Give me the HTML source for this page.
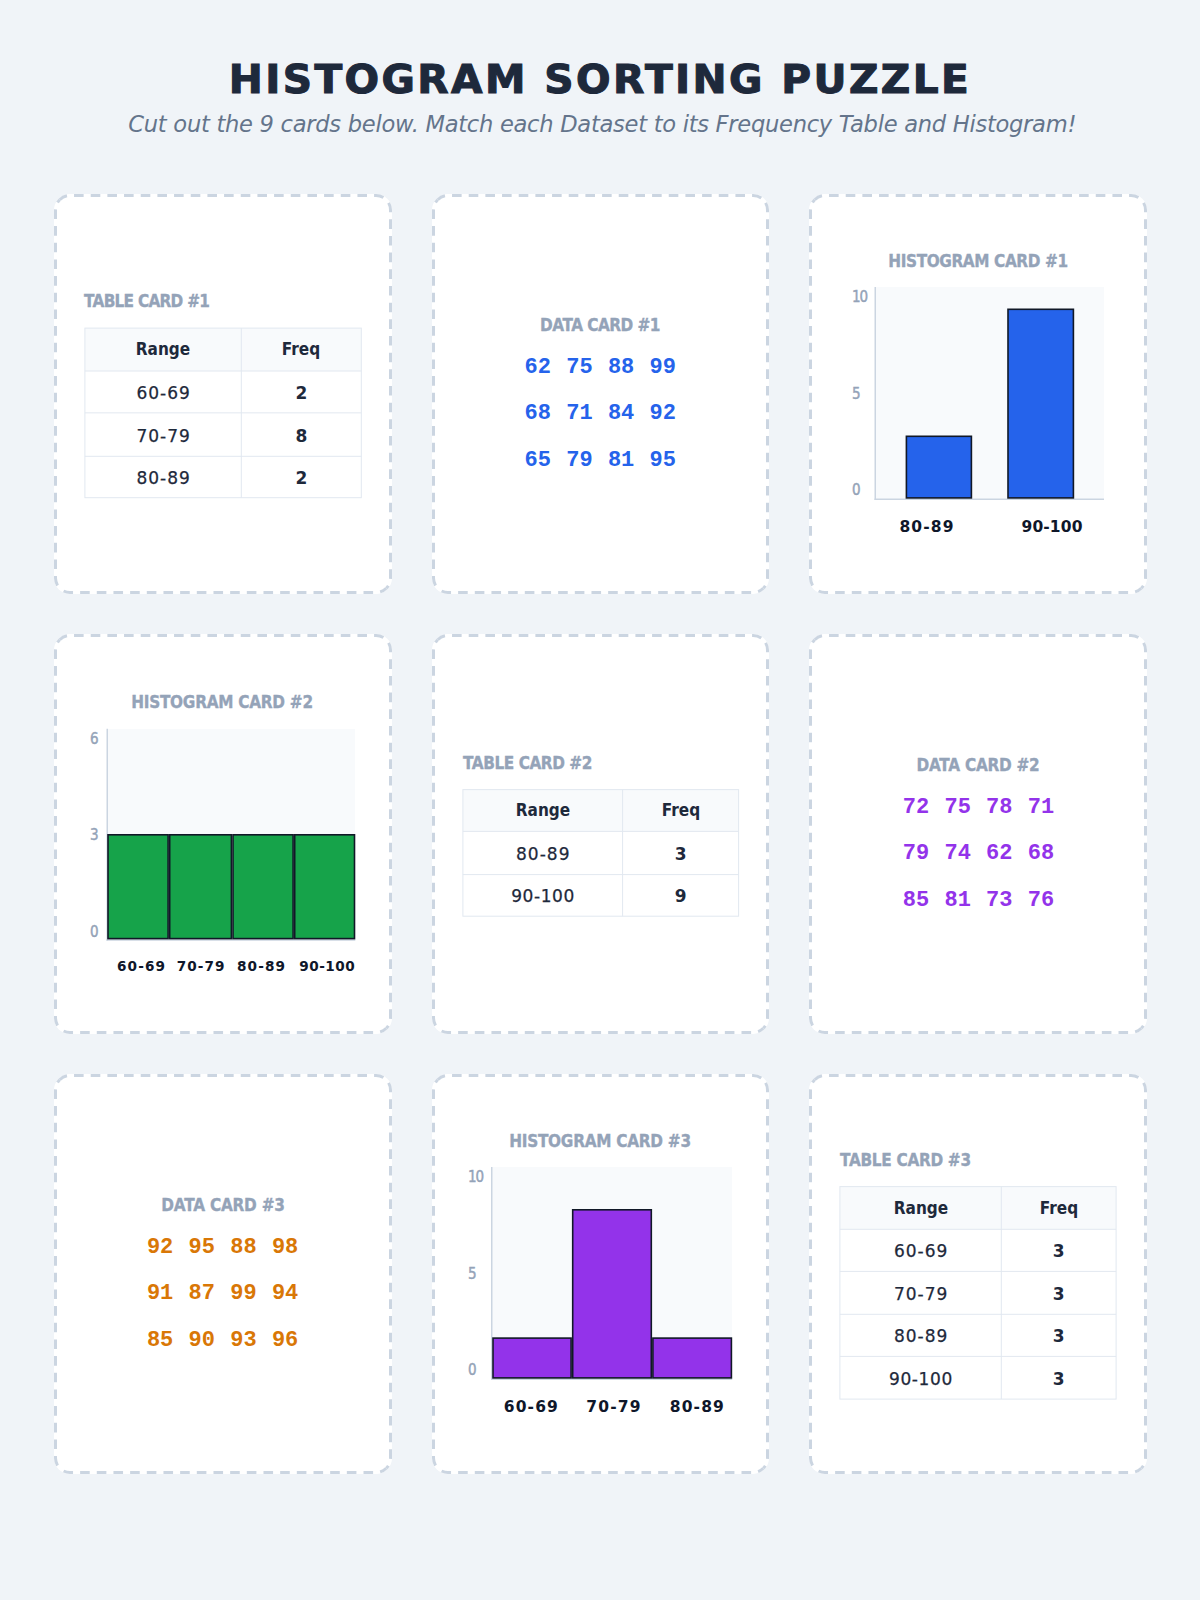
<!DOCTYPE html>
<html><head><meta charset="utf-8"><title>Histogram Sorting Puzzle</title>
<style>
html,body{margin:0;padding:0;}
body{width:1200px;height:1600px;background:#f0f4f8;position:relative;overflow:hidden;font-family:'DejaVu Sans', 'Liberation Sans', sans-serif;}
.t{position:absolute;white-space:nowrap;}
.card{position:absolute;box-sizing:border-box;border-radius:16px;background:#fff;}
.cb{position:absolute;overflow:visible;}
.tb{position:absolute;box-sizing:border-box;border:1px solid #e2e8f0;}
</style></head><body>
<div class="t" style="left:-400.08px;top:60.88px;width:2000px;text-align:center;font:normal 700 38.4px/1 'DejaVu Sans', 'Liberation Sans', sans-serif;color:#1e293b;letter-spacing:2.24px;-webkit-text-stroke:1.05px #1e293b;transform:scaleX(1.06);transform-origin:50% 0;">HISTOGRAM SORTING PUZZLE</div>
<div class="t" style="left:-397.74px;top:112.71px;width:2000px;text-align:center;font:italic 400 22.6px/1 'DejaVu Sans', 'Liberation Sans', sans-serif;color:#64748b;letter-spacing:-0.28px;">Cut out the 9 cards below. Match each Dataset to its Frequency Table and Histogram!</div>
<div class="card" style="left:54px;top:194px;width:338px;height:400px"></div>
<svg class="cb" style="left:54px;top:194px" width="338" height="400"><g fill="none" stroke="#cbd5e1" stroke-width="3.0"><path d="M5.75,5.75 A14.5,14.5 0 0 1 16.0,1.5 L322.0,1.5 A14.5,14.5 0 0 1 332.25,5.75" stroke-dasharray="9.6 7.07" stroke-dashoffset="1.32"/><path d="M332.25,5.75 A14.5,14.5 0 0 1 336.5,16.0 L336.5,384.0 A14.5,14.5 0 0 1 332.25,394.25" stroke-dasharray="9.6 7.07" stroke-dashoffset="12.75"/><path d="M5.75,5.75 A14.5,14.5 0 0 0 1.5,16.0 L1.5,384.0 A14.5,14.5 0 0 0 5.75,394.25" stroke-dasharray="9.6 7.07" stroke-dashoffset="5.98"/><path d="M5.75,394.25 A14.5,14.5 0 0 0 16.0,398.5 L322.0,398.5 A14.5,14.5 0 0 0 332.25,394.25" stroke-dasharray="9.6 7.07" stroke-dashoffset="11.91"/></g></svg>
<div class="card" style="left:432px;top:194px;width:337px;height:400px"></div>
<svg class="cb" style="left:432px;top:194px" width="337" height="400"><g fill="none" stroke="#cbd5e1" stroke-width="3.0"><path d="M5.75,5.75 A14.5,14.5 0 0 1 16.0,1.5 L321.0,1.5 A14.5,14.5 0 0 1 331.25,5.75" stroke-dasharray="9.6 7.07" stroke-dashoffset="1.32"/><path d="M331.25,5.75 A14.5,14.5 0 0 1 335.5,16.0 L335.5,384.0 A14.5,14.5 0 0 1 331.25,394.25" stroke-dasharray="9.6 7.07" stroke-dashoffset="12.75"/><path d="M5.75,5.75 A14.5,14.5 0 0 0 1.5,16.0 L1.5,384.0 A14.5,14.5 0 0 0 5.75,394.25" stroke-dasharray="9.6 7.07" stroke-dashoffset="5.98"/><path d="M5.75,394.25 A14.5,14.5 0 0 0 16.0,398.5 L321.0,398.5 A14.5,14.5 0 0 0 331.25,394.25" stroke-dasharray="9.6 7.07" stroke-dashoffset="11.91"/></g></svg>
<div class="card" style="left:809px;top:194px;width:338px;height:400px"></div>
<svg class="cb" style="left:809px;top:194px" width="338" height="400"><g fill="none" stroke="#cbd5e1" stroke-width="3.0"><path d="M5.75,5.75 A14.5,14.5 0 0 1 16.0,1.5 L322.0,1.5 A14.5,14.5 0 0 1 332.25,5.75" stroke-dasharray="9.6 7.07" stroke-dashoffset="1.32"/><path d="M332.25,5.75 A14.5,14.5 0 0 1 336.5,16.0 L336.5,384.0 A14.5,14.5 0 0 1 332.25,394.25" stroke-dasharray="9.6 7.07" stroke-dashoffset="12.75"/><path d="M5.75,5.75 A14.5,14.5 0 0 0 1.5,16.0 L1.5,384.0 A14.5,14.5 0 0 0 5.75,394.25" stroke-dasharray="9.6 7.07" stroke-dashoffset="5.98"/><path d="M5.75,394.25 A14.5,14.5 0 0 0 16.0,398.5 L322.0,398.5 A14.5,14.5 0 0 0 332.25,394.25" stroke-dasharray="9.6 7.07" stroke-dashoffset="11.91"/></g></svg>
<div class="card" style="left:54px;top:634px;width:338px;height:400px"></div>
<svg class="cb" style="left:54px;top:634px" width="338" height="400"><g fill="none" stroke="#cbd5e1" stroke-width="3.0"><path d="M5.75,5.75 A14.5,14.5 0 0 1 16.0,1.5 L322.0,1.5 A14.5,14.5 0 0 1 332.25,5.75" stroke-dasharray="9.6 7.07" stroke-dashoffset="1.32"/><path d="M332.25,5.75 A14.5,14.5 0 0 1 336.5,16.0 L336.5,384.0 A14.5,14.5 0 0 1 332.25,394.25" stroke-dasharray="9.6 7.07" stroke-dashoffset="12.75"/><path d="M5.75,5.75 A14.5,14.5 0 0 0 1.5,16.0 L1.5,384.0 A14.5,14.5 0 0 0 5.75,394.25" stroke-dasharray="9.6 7.07" stroke-dashoffset="5.98"/><path d="M5.75,394.25 A14.5,14.5 0 0 0 16.0,398.5 L322.0,398.5 A14.5,14.5 0 0 0 332.25,394.25" stroke-dasharray="9.6 7.07" stroke-dashoffset="11.91"/></g></svg>
<div class="card" style="left:432px;top:634px;width:337px;height:400px"></div>
<svg class="cb" style="left:432px;top:634px" width="337" height="400"><g fill="none" stroke="#cbd5e1" stroke-width="3.0"><path d="M5.75,5.75 A14.5,14.5 0 0 1 16.0,1.5 L321.0,1.5 A14.5,14.5 0 0 1 331.25,5.75" stroke-dasharray="9.6 7.07" stroke-dashoffset="1.32"/><path d="M331.25,5.75 A14.5,14.5 0 0 1 335.5,16.0 L335.5,384.0 A14.5,14.5 0 0 1 331.25,394.25" stroke-dasharray="9.6 7.07" stroke-dashoffset="12.75"/><path d="M5.75,5.75 A14.5,14.5 0 0 0 1.5,16.0 L1.5,384.0 A14.5,14.5 0 0 0 5.75,394.25" stroke-dasharray="9.6 7.07" stroke-dashoffset="5.98"/><path d="M5.75,394.25 A14.5,14.5 0 0 0 16.0,398.5 L321.0,398.5 A14.5,14.5 0 0 0 331.25,394.25" stroke-dasharray="9.6 7.07" stroke-dashoffset="11.91"/></g></svg>
<div class="card" style="left:809px;top:634px;width:338px;height:400px"></div>
<svg class="cb" style="left:809px;top:634px" width="338" height="400"><g fill="none" stroke="#cbd5e1" stroke-width="3.0"><path d="M5.75,5.75 A14.5,14.5 0 0 1 16.0,1.5 L322.0,1.5 A14.5,14.5 0 0 1 332.25,5.75" stroke-dasharray="9.6 7.07" stroke-dashoffset="1.32"/><path d="M332.25,5.75 A14.5,14.5 0 0 1 336.5,16.0 L336.5,384.0 A14.5,14.5 0 0 1 332.25,394.25" stroke-dasharray="9.6 7.07" stroke-dashoffset="12.75"/><path d="M5.75,5.75 A14.5,14.5 0 0 0 1.5,16.0 L1.5,384.0 A14.5,14.5 0 0 0 5.75,394.25" stroke-dasharray="9.6 7.07" stroke-dashoffset="5.98"/><path d="M5.75,394.25 A14.5,14.5 0 0 0 16.0,398.5 L322.0,398.5 A14.5,14.5 0 0 0 332.25,394.25" stroke-dasharray="9.6 7.07" stroke-dashoffset="11.91"/></g></svg>
<div class="card" style="left:54px;top:1074px;width:338px;height:400px"></div>
<svg class="cb" style="left:54px;top:1074px" width="338" height="400"><g fill="none" stroke="#cbd5e1" stroke-width="3.0"><path d="M5.75,5.75 A14.5,14.5 0 0 1 16.0,1.5 L322.0,1.5 A14.5,14.5 0 0 1 332.25,5.75" stroke-dasharray="9.6 7.07" stroke-dashoffset="1.32"/><path d="M332.25,5.75 A14.5,14.5 0 0 1 336.5,16.0 L336.5,384.0 A14.5,14.5 0 0 1 332.25,394.25" stroke-dasharray="9.6 7.07" stroke-dashoffset="12.75"/><path d="M5.75,5.75 A14.5,14.5 0 0 0 1.5,16.0 L1.5,384.0 A14.5,14.5 0 0 0 5.75,394.25" stroke-dasharray="9.6 7.07" stroke-dashoffset="5.98"/><path d="M5.75,394.25 A14.5,14.5 0 0 0 16.0,398.5 L322.0,398.5 A14.5,14.5 0 0 0 332.25,394.25" stroke-dasharray="9.6 7.07" stroke-dashoffset="11.91"/></g></svg>
<div class="card" style="left:432px;top:1074px;width:337px;height:400px"></div>
<svg class="cb" style="left:432px;top:1074px" width="337" height="400"><g fill="none" stroke="#cbd5e1" stroke-width="3.0"><path d="M5.75,5.75 A14.5,14.5 0 0 1 16.0,1.5 L321.0,1.5 A14.5,14.5 0 0 1 331.25,5.75" stroke-dasharray="9.6 7.07" stroke-dashoffset="1.32"/><path d="M331.25,5.75 A14.5,14.5 0 0 1 335.5,16.0 L335.5,384.0 A14.5,14.5 0 0 1 331.25,394.25" stroke-dasharray="9.6 7.07" stroke-dashoffset="12.75"/><path d="M5.75,5.75 A14.5,14.5 0 0 0 1.5,16.0 L1.5,384.0 A14.5,14.5 0 0 0 5.75,394.25" stroke-dasharray="9.6 7.07" stroke-dashoffset="5.98"/><path d="M5.75,394.25 A14.5,14.5 0 0 0 16.0,398.5 L321.0,398.5 A14.5,14.5 0 0 0 331.25,394.25" stroke-dasharray="9.6 7.07" stroke-dashoffset="11.91"/></g></svg>
<div class="card" style="left:809px;top:1074px;width:338px;height:400px"></div>
<svg class="cb" style="left:809px;top:1074px" width="338" height="400"><g fill="none" stroke="#cbd5e1" stroke-width="3.0"><path d="M5.75,5.75 A14.5,14.5 0 0 1 16.0,1.5 L322.0,1.5 A14.5,14.5 0 0 1 332.25,5.75" stroke-dasharray="9.6 7.07" stroke-dashoffset="1.32"/><path d="M332.25,5.75 A14.5,14.5 0 0 1 336.5,16.0 L336.5,384.0 A14.5,14.5 0 0 1 332.25,394.25" stroke-dasharray="9.6 7.07" stroke-dashoffset="12.75"/><path d="M5.75,5.75 A14.5,14.5 0 0 0 1.5,16.0 L1.5,384.0 A14.5,14.5 0 0 0 5.75,394.25" stroke-dasharray="9.6 7.07" stroke-dashoffset="5.98"/><path d="M5.75,394.25 A14.5,14.5 0 0 0 16.0,398.5 L322.0,398.5 A14.5,14.5 0 0 0 332.25,394.25" stroke-dasharray="9.6 7.07" stroke-dashoffset="11.91"/></g></svg>
<div class="t" style="left:84.10px;top:293.03px;font:normal 700 17px/1 'DejaVu Sans', 'Liberation Sans', sans-serif;color:#94a3b8;letter-spacing:-0.811px;transform:scaleX(0.9);transform-origin:0 0;-webkit-text-stroke:0.35px #94a3b8;">TABLE CARD #1</div>
<svg class="cb" style="left:0;top:0" width="1200" height="1600"><rect x="84.9" y="328.1" width="276.4" height="42.89999999999998" fill="#f8fafc"/><g stroke="#e2e8f0" stroke-width="1" fill="none"><rect x="84.9" y="328.1" width="276.4" height="169.59999999999997"/><line x1="84.9" y1="371.0" x2="361.3" y2="371.0"/><line x1="84.9" y1="412.85" x2="361.3" y2="412.85"/><line x1="84.9" y1="456.3" x2="361.3" y2="456.3"/><line x1="241.3" y1="328.1" x2="241.3" y2="497.7"/></g></svg>
<div class="t" style="left:-836.90px;top:341.48px;width:2000px;text-align:center;font:normal 700 17px/1 'DejaVu Sans', 'Liberation Sans', sans-serif;color:#1e293b;letter-spacing:0.0px;transform:scaleX(0.9);transform-origin:50% 0;">Range</div>
<div class="t" style="left:-698.70px;top:341.48px;width:2000px;text-align:center;font:normal 700 17px/1 'DejaVu Sans', 'Liberation Sans', sans-serif;color:#1e293b;letter-spacing:0.0px;transform:scaleX(0.9);transform-origin:50% 0;">Freq</div>
<div class="t" style="left:-836.40px;top:384.94px;width:2000px;text-align:center;font:normal 400 17px/1 'DejaVu Sans', 'Liberation Sans', sans-serif;color:#1e293b;letter-spacing:1.0px;-webkit-text-stroke:0.25px #1e293b;">60-69</div>
<div class="t" style="left:-698.70px;top:384.94px;width:2000px;text-align:center;font:normal 700 17px/1 'DejaVu Sans', 'Liberation Sans', sans-serif;color:#1e293b;letter-spacing:0px;">2</div>
<div class="t" style="left:-836.40px;top:427.59px;width:2000px;text-align:center;font:normal 400 17px/1 'DejaVu Sans', 'Liberation Sans', sans-serif;color:#1e293b;letter-spacing:1.0px;-webkit-text-stroke:0.25px #1e293b;">70-79</div>
<div class="t" style="left:-698.70px;top:427.59px;width:2000px;text-align:center;font:normal 700 17px/1 'DejaVu Sans', 'Liberation Sans', sans-serif;color:#1e293b;letter-spacing:0px;">8</div>
<div class="t" style="left:-836.40px;top:470.01px;width:2000px;text-align:center;font:normal 400 17px/1 'DejaVu Sans', 'Liberation Sans', sans-serif;color:#1e293b;letter-spacing:1.0px;-webkit-text-stroke:0.25px #1e293b;">80-89</div>
<div class="t" style="left:-698.70px;top:470.01px;width:2000px;text-align:center;font:normal 700 17px/1 'DejaVu Sans', 'Liberation Sans', sans-serif;color:#1e293b;letter-spacing:0px;">2</div>
<div class="t" style="left:462.50px;top:754.83px;font:normal 700 17px/1 'DejaVu Sans', 'Liberation Sans', sans-serif;color:#94a3b8;letter-spacing:-0.489px;transform:scaleX(0.9);transform-origin:0 0;-webkit-text-stroke:0.35px #94a3b8;">TABLE CARD #2</div>
<svg class="cb" style="left:0;top:0" width="1200" height="1600"><rect x="462.9" y="789.6" width="275.70000000000005" height="41.799999999999955" fill="#f8fafc"/><g stroke="#e2e8f0" stroke-width="1" fill="none"><rect x="462.9" y="789.6" width="275.70000000000005" height="126.60000000000002"/><line x1="462.9" y1="831.4" x2="738.6" y2="831.4"/><line x1="462.9" y1="874.6" x2="738.6" y2="874.6"/><line x1="622.6" y1="789.6" x2="622.6" y2="916.2"/></g></svg>
<div class="t" style="left:-457.25px;top:802.42px;width:2000px;text-align:center;font:normal 700 17px/1 'DejaVu Sans', 'Liberation Sans', sans-serif;color:#1e293b;letter-spacing:0.0px;transform:scaleX(0.9);transform-origin:50% 0;">Range</div>
<div class="t" style="left:-319.40px;top:802.42px;width:2000px;text-align:center;font:normal 700 17px/1 'DejaVu Sans', 'Liberation Sans', sans-serif;color:#1e293b;letter-spacing:0.0px;transform:scaleX(0.9);transform-origin:50% 0;">Freq</div>
<div class="t" style="left:-456.75px;top:846.01px;width:2000px;text-align:center;font:normal 400 17px/1 'DejaVu Sans', 'Liberation Sans', sans-serif;color:#1e293b;letter-spacing:1.0px;-webkit-text-stroke:0.25px #1e293b;">80-89</div>
<div class="t" style="left:-319.40px;top:846.01px;width:2000px;text-align:center;font:normal 700 17px/1 'DejaVu Sans', 'Liberation Sans', sans-serif;color:#1e293b;letter-spacing:0px;">3</div>
<div class="t" style="left:-456.95px;top:888.41px;width:2000px;text-align:center;font:normal 400 17px/1 'DejaVu Sans', 'Liberation Sans', sans-serif;color:#1e293b;letter-spacing:0.6px;-webkit-text-stroke:0.25px #1e293b;">90-100</div>
<div class="t" style="left:-319.40px;top:888.41px;width:2000px;text-align:center;font:normal 700 17px/1 'DejaVu Sans', 'Liberation Sans', sans-serif;color:#1e293b;letter-spacing:0px;">9</div>
<div class="t" style="left:839.50px;top:1151.83px;font:normal 700 17px/1 'DejaVu Sans', 'Liberation Sans', sans-serif;color:#94a3b8;letter-spacing:-0.333px;transform:scaleX(0.9);transform-origin:0 0;-webkit-text-stroke:0.35px #94a3b8;">TABLE CARD #3</div>
<svg class="cb" style="left:0;top:0" width="1200" height="1600"><rect x="839.9" y="1186.6" width="276.19999999999993" height="42.700000000000045" fill="#f8fafc"/><g stroke="#e2e8f0" stroke-width="1" fill="none"><rect x="839.9" y="1186.6" width="276.19999999999993" height="212.5"/><line x1="839.9" y1="1229.3" x2="1116.1" y2="1229.3"/><line x1="839.9" y1="1271.4" x2="1116.1" y2="1271.4"/><line x1="839.9" y1="1314.3" x2="1116.1" y2="1314.3"/><line x1="839.9" y1="1356.4" x2="1116.1" y2="1356.4"/><line x1="1001.3" y1="1186.6" x2="1001.3" y2="1399.1"/></g></svg>
<div class="t" style="left:-79.40px;top:1199.88px;width:2000px;text-align:center;font:normal 700 17px/1 'DejaVu Sans', 'Liberation Sans', sans-serif;color:#1e293b;letter-spacing:0.0px;transform:scaleX(0.9);transform-origin:50% 0;">Range</div>
<div class="t" style="left:58.70px;top:1199.88px;width:2000px;text-align:center;font:normal 700 17px/1 'DejaVu Sans', 'Liberation Sans', sans-serif;color:#1e293b;letter-spacing:0.0px;transform:scaleX(0.9);transform-origin:50% 0;">Freq</div>
<div class="t" style="left:-78.90px;top:1243.36px;width:2000px;text-align:center;font:normal 400 17px/1 'DejaVu Sans', 'Liberation Sans', sans-serif;color:#1e293b;letter-spacing:1.0px;-webkit-text-stroke:0.25px #1e293b;">60-69</div>
<div class="t" style="left:58.70px;top:1243.36px;width:2000px;text-align:center;font:normal 700 17px/1 'DejaVu Sans', 'Liberation Sans', sans-serif;color:#1e293b;letter-spacing:0px;">3</div>
<div class="t" style="left:-78.90px;top:1285.86px;width:2000px;text-align:center;font:normal 400 17px/1 'DejaVu Sans', 'Liberation Sans', sans-serif;color:#1e293b;letter-spacing:1.0px;-webkit-text-stroke:0.25px #1e293b;">70-79</div>
<div class="t" style="left:58.70px;top:1285.86px;width:2000px;text-align:center;font:normal 700 17px/1 'DejaVu Sans', 'Liberation Sans', sans-serif;color:#1e293b;letter-spacing:0px;">3</div>
<div class="t" style="left:-78.90px;top:1328.36px;width:2000px;text-align:center;font:normal 400 17px/1 'DejaVu Sans', 'Liberation Sans', sans-serif;color:#1e293b;letter-spacing:1.0px;-webkit-text-stroke:0.25px #1e293b;">80-89</div>
<div class="t" style="left:58.70px;top:1328.36px;width:2000px;text-align:center;font:normal 700 17px/1 'DejaVu Sans', 'Liberation Sans', sans-serif;color:#1e293b;letter-spacing:0px;">3</div>
<div class="t" style="left:-79.10px;top:1370.76px;width:2000px;text-align:center;font:normal 400 17px/1 'DejaVu Sans', 'Liberation Sans', sans-serif;color:#1e293b;letter-spacing:0.6px;-webkit-text-stroke:0.25px #1e293b;">90-100</div>
<div class="t" style="left:58.70px;top:1370.76px;width:2000px;text-align:center;font:normal 700 17px/1 'DejaVu Sans', 'Liberation Sans', sans-serif;color:#1e293b;letter-spacing:0px;">3</div>
<div class="t" style="left:-399.97px;top:316.83px;width:2000px;text-align:center;font:normal 700 17px/1 'DejaVu Sans', 'Liberation Sans', sans-serif;color:#94a3b8;letter-spacing:-0.589px;transform:scaleX(0.9);transform-origin:50% 0;-webkit-text-stroke:0.35px #94a3b8;">DATA CARD #1</div>
<div class="t" style="left:-462.20px;top:356.62px;width:2000px;text-align:center;font:normal 700 22px/1 'Liberation Mono', 'DejaVu Sans Mono', monospace;color:#2563eb;letter-spacing:0.0px;">62</div>
<div class="t" style="left:-420.50px;top:356.62px;width:2000px;text-align:center;font:normal 700 22px/1 'Liberation Mono', 'DejaVu Sans Mono', monospace;color:#2563eb;letter-spacing:0.0px;">75</div>
<div class="t" style="left:-378.90px;top:356.62px;width:2000px;text-align:center;font:normal 700 22px/1 'Liberation Mono', 'DejaVu Sans Mono', monospace;color:#2563eb;letter-spacing:0.0px;">88</div>
<div class="t" style="left:-337.20px;top:356.62px;width:2000px;text-align:center;font:normal 700 22px/1 'Liberation Mono', 'DejaVu Sans Mono', monospace;color:#2563eb;letter-spacing:0.0px;">99</div>
<div class="t" style="left:-462.20px;top:403.32px;width:2000px;text-align:center;font:normal 700 22px/1 'Liberation Mono', 'DejaVu Sans Mono', monospace;color:#2563eb;letter-spacing:0.0px;">68</div>
<div class="t" style="left:-420.50px;top:403.32px;width:2000px;text-align:center;font:normal 700 22px/1 'Liberation Mono', 'DejaVu Sans Mono', monospace;color:#2563eb;letter-spacing:0.0px;">71</div>
<div class="t" style="left:-378.90px;top:403.32px;width:2000px;text-align:center;font:normal 700 22px/1 'Liberation Mono', 'DejaVu Sans Mono', monospace;color:#2563eb;letter-spacing:0.0px;">84</div>
<div class="t" style="left:-337.20px;top:403.32px;width:2000px;text-align:center;font:normal 700 22px/1 'Liberation Mono', 'DejaVu Sans Mono', monospace;color:#2563eb;letter-spacing:0.0px;">92</div>
<div class="t" style="left:-462.20px;top:449.92px;width:2000px;text-align:center;font:normal 700 22px/1 'Liberation Mono', 'DejaVu Sans Mono', monospace;color:#2563eb;letter-spacing:0.0px;">65</div>
<div class="t" style="left:-420.50px;top:449.92px;width:2000px;text-align:center;font:normal 700 22px/1 'Liberation Mono', 'DejaVu Sans Mono', monospace;color:#2563eb;letter-spacing:0.0px;">79</div>
<div class="t" style="left:-378.90px;top:449.92px;width:2000px;text-align:center;font:normal 700 22px/1 'Liberation Mono', 'DejaVu Sans Mono', monospace;color:#2563eb;letter-spacing:0.0px;">81</div>
<div class="t" style="left:-337.20px;top:449.92px;width:2000px;text-align:center;font:normal 700 22px/1 'Liberation Mono', 'DejaVu Sans Mono', monospace;color:#2563eb;letter-spacing:0.0px;">95</div>
<div class="t" style="left:-21.63px;top:756.83px;width:2000px;text-align:center;font:normal 700 17px/1 'DejaVu Sans', 'Liberation Sans', sans-serif;color:#94a3b8;letter-spacing:-0.289px;transform:scaleX(0.9);transform-origin:50% 0;-webkit-text-stroke:0.35px #94a3b8;">DATA CARD #2</div>
<div class="t" style="left:-84.00px;top:796.62px;width:2000px;text-align:center;font:normal 700 22px/1 'Liberation Mono', 'DejaVu Sans Mono', monospace;color:#9333ea;letter-spacing:0.0px;">72</div>
<div class="t" style="left:-42.30px;top:796.62px;width:2000px;text-align:center;font:normal 700 22px/1 'Liberation Mono', 'DejaVu Sans Mono', monospace;color:#9333ea;letter-spacing:0.0px;">75</div>
<div class="t" style="left:-0.70px;top:796.62px;width:2000px;text-align:center;font:normal 700 22px/1 'Liberation Mono', 'DejaVu Sans Mono', monospace;color:#9333ea;letter-spacing:0.0px;">78</div>
<div class="t" style="left:41.00px;top:796.62px;width:2000px;text-align:center;font:normal 700 22px/1 'Liberation Mono', 'DejaVu Sans Mono', monospace;color:#9333ea;letter-spacing:0.0px;">71</div>
<div class="t" style="left:-84.00px;top:843.32px;width:2000px;text-align:center;font:normal 700 22px/1 'Liberation Mono', 'DejaVu Sans Mono', monospace;color:#9333ea;letter-spacing:0.0px;">79</div>
<div class="t" style="left:-42.30px;top:843.32px;width:2000px;text-align:center;font:normal 700 22px/1 'Liberation Mono', 'DejaVu Sans Mono', monospace;color:#9333ea;letter-spacing:0.0px;">74</div>
<div class="t" style="left:-0.70px;top:843.32px;width:2000px;text-align:center;font:normal 700 22px/1 'Liberation Mono', 'DejaVu Sans Mono', monospace;color:#9333ea;letter-spacing:0.0px;">62</div>
<div class="t" style="left:41.00px;top:843.32px;width:2000px;text-align:center;font:normal 700 22px/1 'Liberation Mono', 'DejaVu Sans Mono', monospace;color:#9333ea;letter-spacing:0.0px;">68</div>
<div class="t" style="left:-84.00px;top:889.92px;width:2000px;text-align:center;font:normal 700 22px/1 'Liberation Mono', 'DejaVu Sans Mono', monospace;color:#9333ea;letter-spacing:0.0px;">85</div>
<div class="t" style="left:-42.30px;top:889.92px;width:2000px;text-align:center;font:normal 700 22px/1 'Liberation Mono', 'DejaVu Sans Mono', monospace;color:#9333ea;letter-spacing:0.0px;">81</div>
<div class="t" style="left:-0.70px;top:889.92px;width:2000px;text-align:center;font:normal 700 22px/1 'Liberation Mono', 'DejaVu Sans Mono', monospace;color:#9333ea;letter-spacing:0.0px;">73</div>
<div class="t" style="left:41.00px;top:889.92px;width:2000px;text-align:center;font:normal 700 22px/1 'Liberation Mono', 'DejaVu Sans Mono', monospace;color:#9333ea;letter-spacing:0.0px;">76</div>
<div class="t" style="left:-777.51px;top:1196.83px;width:2000px;text-align:center;font:normal 700 17px/1 'DejaVu Sans', 'Liberation Sans', sans-serif;color:#94a3b8;letter-spacing:-0.256px;transform:scaleX(0.9);transform-origin:50% 0;-webkit-text-stroke:0.35px #94a3b8;">DATA CARD #3</div>
<div class="t" style="left:-839.90px;top:1236.62px;width:2000px;text-align:center;font:normal 700 22px/1 'Liberation Mono', 'DejaVu Sans Mono', monospace;color:#d97706;letter-spacing:0.0px;">92</div>
<div class="t" style="left:-798.20px;top:1236.62px;width:2000px;text-align:center;font:normal 700 22px/1 'Liberation Mono', 'DejaVu Sans Mono', monospace;color:#d97706;letter-spacing:0.0px;">95</div>
<div class="t" style="left:-756.60px;top:1236.62px;width:2000px;text-align:center;font:normal 700 22px/1 'Liberation Mono', 'DejaVu Sans Mono', monospace;color:#d97706;letter-spacing:0.0px;">88</div>
<div class="t" style="left:-714.90px;top:1236.62px;width:2000px;text-align:center;font:normal 700 22px/1 'Liberation Mono', 'DejaVu Sans Mono', monospace;color:#d97706;letter-spacing:0.0px;">98</div>
<div class="t" style="left:-839.90px;top:1283.32px;width:2000px;text-align:center;font:normal 700 22px/1 'Liberation Mono', 'DejaVu Sans Mono', monospace;color:#d97706;letter-spacing:0.0px;">91</div>
<div class="t" style="left:-798.20px;top:1283.32px;width:2000px;text-align:center;font:normal 700 22px/1 'Liberation Mono', 'DejaVu Sans Mono', monospace;color:#d97706;letter-spacing:0.0px;">87</div>
<div class="t" style="left:-756.60px;top:1283.32px;width:2000px;text-align:center;font:normal 700 22px/1 'Liberation Mono', 'DejaVu Sans Mono', monospace;color:#d97706;letter-spacing:0.0px;">99</div>
<div class="t" style="left:-714.90px;top:1283.32px;width:2000px;text-align:center;font:normal 700 22px/1 'Liberation Mono', 'DejaVu Sans Mono', monospace;color:#d97706;letter-spacing:0.0px;">94</div>
<div class="t" style="left:-839.90px;top:1329.92px;width:2000px;text-align:center;font:normal 700 22px/1 'Liberation Mono', 'DejaVu Sans Mono', monospace;color:#d97706;letter-spacing:0.0px;">85</div>
<div class="t" style="left:-798.20px;top:1329.92px;width:2000px;text-align:center;font:normal 700 22px/1 'Liberation Mono', 'DejaVu Sans Mono', monospace;color:#d97706;letter-spacing:0.0px;">90</div>
<div class="t" style="left:-756.60px;top:1329.92px;width:2000px;text-align:center;font:normal 700 22px/1 'Liberation Mono', 'DejaVu Sans Mono', monospace;color:#d97706;letter-spacing:0.0px;">93</div>
<div class="t" style="left:-714.90px;top:1329.92px;width:2000px;text-align:center;font:normal 700 22px/1 'Liberation Mono', 'DejaVu Sans Mono', monospace;color:#d97706;letter-spacing:0.0px;">96</div>
<div class="t" style="left:-22.10px;top:253.03px;width:2000px;text-align:center;font:normal 700 17px/1 'DejaVu Sans', 'Liberation Sans', sans-serif;color:#94a3b8;letter-spacing:-0.439px;transform:scaleX(0.9);transform-origin:50% 0;-webkit-text-stroke:0.35px #94a3b8;">HISTOGRAM CARD #1</div>
<div style="position:absolute;left:874.5px;top:287px;width:229.5px;height:211.5px;background:#f8fafc"></div>
<svg style="position:absolute;left:0;top:0" width="1200" height="1600" viewBox="0 0 1200 1600"><line x1="875.25" y1="287" x2="875.25" y2="500.0" stroke="#cbd5e1" stroke-width="1.5"/><line x1="874.5" y1="499.25" x2="1104" y2="499.25" stroke="#cbd5e1" stroke-width="1.5"/><rect x="906.40" y="436.30" width="65.00" height="61.60" fill="#2563eb" stroke="#111827" stroke-width="1.6"/><rect x="1008.00" y="309.30" width="65.40" height="188.60" fill="#2563eb" stroke="#111827" stroke-width="1.6"/></svg>
<div class="t" style="left:851.55px;top:290.45px;font:normal 400 15px/1 'DejaVu Sans', 'Liberation Sans', sans-serif;color:#94a3b8;letter-spacing:-1.111px;transform:scaleX(0.9);transform-origin:0 0;-webkit-text-stroke:0.45px #94a3b8;">10</div>
<div class="t" style="left:851.55px;top:386.65px;font:normal 400 15px/1 'DejaVu Sans', 'Liberation Sans', sans-serif;color:#94a3b8;letter-spacing:-1.111px;transform:scaleX(0.9);transform-origin:0 0;-webkit-text-stroke:0.45px #94a3b8;">5</div>
<div class="t" style="left:851.55px;top:483.45px;font:normal 400 15px/1 'DejaVu Sans', 'Liberation Sans', sans-serif;color:#94a3b8;letter-spacing:-1.111px;transform:scaleX(0.9);transform-origin:0 0;-webkit-text-stroke:0.45px #94a3b8;">0</div>
<div class="t" style="left:-72.92px;top:519.90px;width:2000px;text-align:center;font:normal 700 15.5px/1 'DejaVu Sans', 'Liberation Sans', sans-serif;color:#0f172a;letter-spacing:1.15px;">80-89</div>
<div class="t" style="left:52.05px;top:519.90px;width:2000px;text-align:center;font:normal 700 15.5px/1 'DejaVu Sans', 'Liberation Sans', sans-serif;color:#0f172a;letter-spacing:0.1px;">90-100</div>
<div class="t" style="left:-777.63px;top:694.43px;width:2000px;text-align:center;font:normal 700 17px/1 'DejaVu Sans', 'Liberation Sans', sans-serif;color:#94a3b8;letter-spacing:-0.289px;transform:scaleX(0.9);transform-origin:50% 0;-webkit-text-stroke:0.35px #94a3b8;">HISTOGRAM CARD #2</div>
<div style="position:absolute;left:106.5px;top:728.8px;width:248.8px;height:210.4000000000001px;background:#f8fafc"></div>
<svg style="position:absolute;left:0;top:0" width="1200" height="1600" viewBox="0 0 1200 1600"><line x1="107.25" y1="728.8" x2="107.25" y2="940.7" stroke="#cbd5e1" stroke-width="1.5"/><line x1="106.5" y1="939.95" x2="355.3" y2="939.95" stroke="#cbd5e1" stroke-width="1.5"/><rect x="108.00" y="834.80" width="60.10" height="103.80" fill="#16a34a" stroke="#111827" stroke-width="1.6"/><rect x="169.70" y="834.80" width="61.70" height="103.80" fill="#16a34a" stroke="#111827" stroke-width="1.6"/><rect x="233.00" y="834.80" width="60.10" height="103.80" fill="#16a34a" stroke="#111827" stroke-width="1.6"/><rect x="294.70" y="834.80" width="59.80" height="103.80" fill="#16a34a" stroke="#111827" stroke-width="1.6"/></svg>
<div class="t" style="left:90.06px;top:732.25px;font:normal 400 15px/1 'DejaVu Sans', 'Liberation Sans', sans-serif;color:#94a3b8;letter-spacing:-1.111px;transform:scaleX(0.9);transform-origin:0 0;-webkit-text-stroke:0.45px #94a3b8;">6</div>
<div class="t" style="left:90.06px;top:828.45px;font:normal 400 15px/1 'DejaVu Sans', 'Liberation Sans', sans-serif;color:#94a3b8;letter-spacing:-1.111px;transform:scaleX(0.9);transform-origin:0 0;-webkit-text-stroke:0.45px #94a3b8;">3</div>
<div class="t" style="left:90.06px;top:925.25px;font:normal 400 15px/1 'DejaVu Sans', 'Liberation Sans', sans-serif;color:#94a3b8;letter-spacing:-1.111px;transform:scaleX(0.9);transform-origin:0 0;-webkit-text-stroke:0.45px #94a3b8;">0</div>
<div class="t" style="left:-858.45px;top:960.28px;width:2000px;text-align:center;font:normal 700 13.6px/1 'DejaVu Sans', 'Liberation Sans', sans-serif;color:#0f172a;letter-spacing:1.1px;">60-69</div>
<div class="t" style="left:-798.85px;top:960.28px;width:2000px;text-align:center;font:normal 700 13.6px/1 'DejaVu Sans', 'Liberation Sans', sans-serif;color:#0f172a;letter-spacing:1.1px;">70-79</div>
<div class="t" style="left:-738.45px;top:960.28px;width:2000px;text-align:center;font:normal 700 13.6px/1 'DejaVu Sans', 'Liberation Sans', sans-serif;color:#0f172a;letter-spacing:1.1px;">80-89</div>
<div class="t" style="left:-672.75px;top:960.28px;width:2000px;text-align:center;font:normal 700 13.6px/1 'DejaVu Sans', 'Liberation Sans', sans-serif;color:#0f172a;letter-spacing:0.5px;">90-100</div>
<div class="t" style="left:-400.13px;top:1133.03px;width:2000px;text-align:center;font:normal 700 17px/1 'DejaVu Sans', 'Liberation Sans', sans-serif;color:#94a3b8;letter-spacing:-0.289px;transform:scaleX(0.9);transform-origin:50% 0;-webkit-text-stroke:0.35px #94a3b8;">HISTOGRAM CARD #3</div>
<div style="position:absolute;left:491.0px;top:1167px;width:241.20000000000005px;height:211.5px;background:#f8fafc"></div>
<svg style="position:absolute;left:0;top:0" width="1200" height="1600" viewBox="0 0 1200 1600"><line x1="491.75" y1="1167" x2="491.75" y2="1380.0" stroke="#cbd5e1" stroke-width="1.5"/><line x1="491.0" y1="1379.25" x2="732.2" y2="1379.25" stroke="#cbd5e1" stroke-width="1.5"/><rect x="493.00" y="1338.10" width="78.10" height="39.80" fill="#9333ea" stroke="#111827" stroke-width="1.6"/><rect x="572.70" y="1209.80" width="78.60" height="168.10" fill="#9333ea" stroke="#111827" stroke-width="1.6"/><rect x="652.90" y="1338.10" width="78.50" height="39.80" fill="#9333ea" stroke="#111827" stroke-width="1.6"/></svg>
<div class="t" style="left:467.86px;top:1170.45px;font:normal 400 15px/1 'DejaVu Sans', 'Liberation Sans', sans-serif;color:#94a3b8;letter-spacing:-1.111px;transform:scaleX(0.9);transform-origin:0 0;-webkit-text-stroke:0.45px #94a3b8;">10</div>
<div class="t" style="left:467.86px;top:1266.65px;font:normal 400 15px/1 'DejaVu Sans', 'Liberation Sans', sans-serif;color:#94a3b8;letter-spacing:-1.111px;transform:scaleX(0.9);transform-origin:0 0;-webkit-text-stroke:0.45px #94a3b8;">5</div>
<div class="t" style="left:467.86px;top:1363.45px;font:normal 400 15px/1 'DejaVu Sans', 'Liberation Sans', sans-serif;color:#94a3b8;letter-spacing:-1.111px;transform:scaleX(0.9);transform-origin:0 0;-webkit-text-stroke:0.45px #94a3b8;">0</div>
<div class="t" style="left:-468.62px;top:1399.90px;width:2000px;text-align:center;font:normal 700 15.5px/1 'DejaVu Sans', 'Liberation Sans', sans-serif;color:#0f172a;letter-spacing:1.15px;">60-69</div>
<div class="t" style="left:-386.02px;top:1399.90px;width:2000px;text-align:center;font:normal 700 15.5px/1 'DejaVu Sans', 'Liberation Sans', sans-serif;color:#0f172a;letter-spacing:1.15px;">70-79</div>
<div class="t" style="left:-302.62px;top:1399.90px;width:2000px;text-align:center;font:normal 700 15.5px/1 'DejaVu Sans', 'Liberation Sans', sans-serif;color:#0f172a;letter-spacing:1.15px;">80-89</div>
</body></html>
